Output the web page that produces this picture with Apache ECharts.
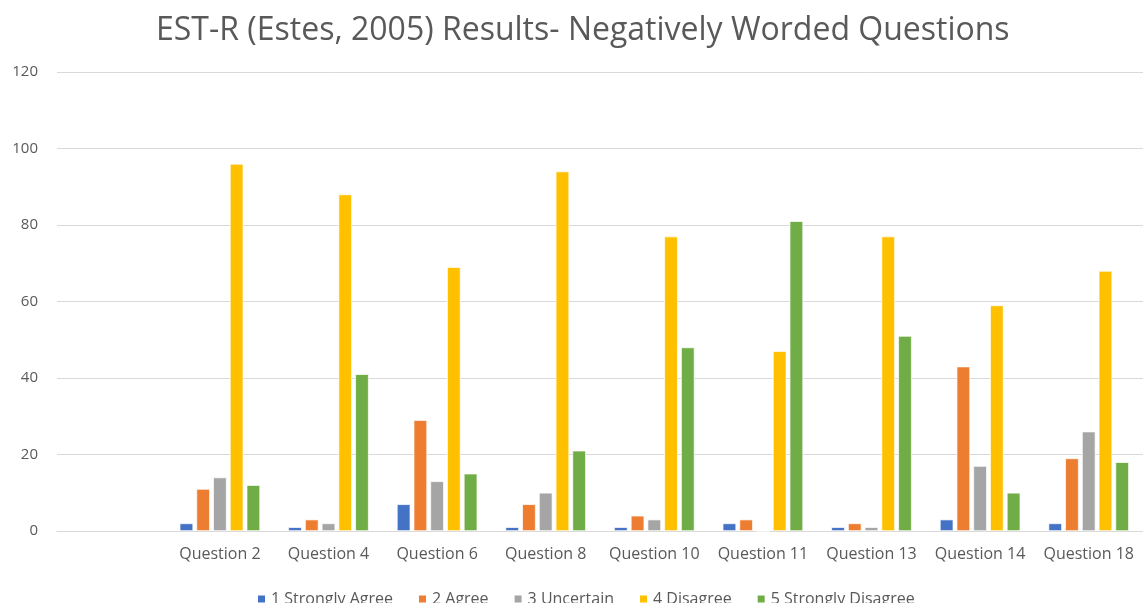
<!DOCTYPE html>
<html><head><meta charset="utf-8">
<script src="https://cdn.jsdelivr.net/npm/echarts@6/dist/echarts.min.js"></script>
<style>html,body{margin:0;padding:0;background:#fff}#c{width:1143px;height:603px}</style>
</head><body><div id="c"></div>
<script>
const categories = ['', 'Question 2', 'Question 4', 'Question 6', 'Question 8', 'Question 10', 'Question 11', 'Question 13', 'Question 14', 'Question 18'];
const seriesNames = ['1 Strongly Agree', '2 Agree', '3 Uncertain', '4 Disagree', '5 Strongly Disagree'];
const stronglyAgree    = [null, 2, 1, 7, 1, 1, 2, 1, 3, 2];
const agree            = [null, 11, 3, 29, 7, 4, 3, 2, 43, 19];
const uncertain        = [null, 14, 2, 13, 10, 3, 0, 1, 17, 26];
const disagree         = [null, 96, 88, 69, 94, 77, 47, 77, 59, 68];
const stronglyDisagree = [null, 12, 41, 15, 21, 48, 81, 51, 10, 18];
const colors = ['#4472C4', '#ED7D31', '#A5A5A5', '#FFC000', '#70AD47'];
const values = [stronglyAgree, agree, uncertain, disagree, stronglyDisagree];

const font = "'Open Sans', 'Liberation Sans', sans-serif";
const chart = echarts.init(document.getElementById('c'), null, {renderer: 'canvas'});
chart.setOption({
  animation: false,
  color: colors,
  title: {
    text: 'EST-R (Estes, 2005) Results- Negatively Worded Questions',
    left: 151, top: 10,
    textStyle: {fontFamily: font, fontSize: 32, fontWeight: 'normal', color: '#595959'}
  },
  legend: {
    data: seriesNames, bottom: -9, left: 251,
    itemWidth: 9, itemHeight: 9, itemGap: 24,
    icon: 'rect',
    textStyle: {fontFamily: font, fontSize: 16, color: '#595959'}
  },
  grid: {left: 57, right: -7, top: 72, bottom: 72, containLabel: false},
  xAxis: {
    type: 'category', data: categories,
    axisLine: {show: true, lineStyle: {color: '#d9d9d9'}},
    axisTick: {show: false},
    axisLabel: {fontFamily: font, fontSize: 16, color: '#595959', margin: 15, interval: 0}
  },
  yAxis: {
    type: 'value', min: 0, max: 120, interval: 20,
    axisLine: {show: false}, axisTick: {show: false},
    splitLine: {lineStyle: {color: '#d9d9d9', width: 1}},
    axisLabel: {fontFamily: font, fontSize: 15, color: '#595959', margin: 19}
  },
  series: seriesNames.map((n, i) => ({
    name: n, type: 'bar', data: values[i],
    barWidth: 13.5, barGap: '24%',
    itemStyle: {color: colors[i], borderColor: '#ffffff', borderWidth: 0.7}
  }))
});
</script></body></html>
